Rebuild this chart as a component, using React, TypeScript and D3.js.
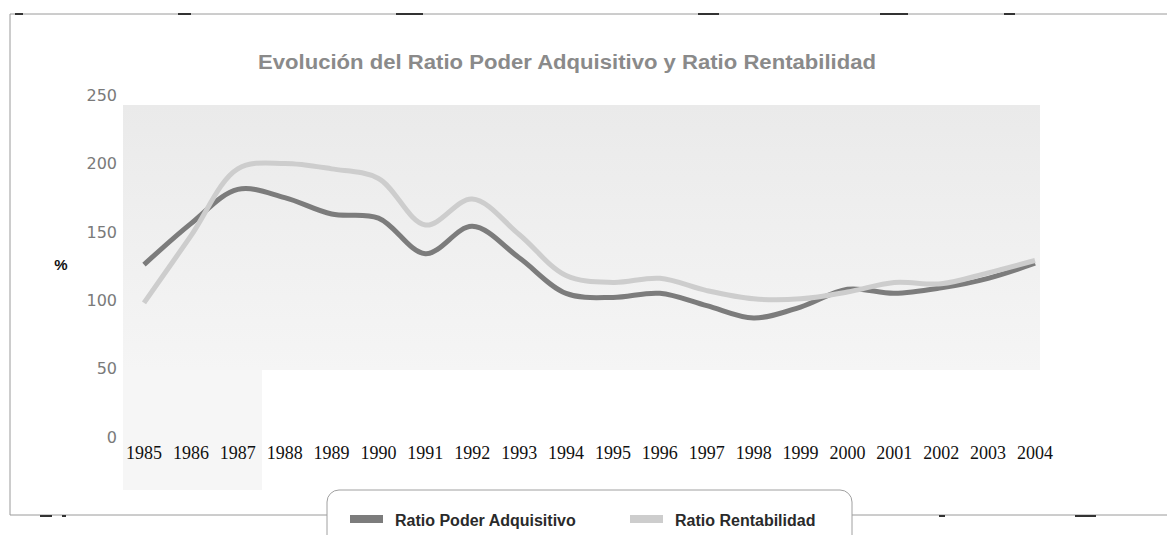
import { useRef, useEffect } from "react";
import * as d3 from "d3";

const years = [
  "1985", "1986", "1987", "1988", "1989", "1990", "1991", "1992", "1993", "1994",
  "1995", "1996", "1997", "1998", "1999", "2000", "2001", "2002", "2003", "2004",
];
const poderAdquisitivo = [126, 156, 181, 175, 163, 160, 134, 154, 131, 105, 102, 105, 96, 87, 95, 108, 105, 109, 116, 127];
const rentabilidad = [98, 147, 196, 200, 196, 189, 155, 174, 148, 118, 113, 116, 107, 101, 101, 106, 113, 112, 120, 129];
const yTicks = [0, 50, 100, 150, 200, 250];
const seriesNames = ["Ratio Poder Adquisitivo", "Ratio Rentabilidad"];
const seriesColors = ["#7c7c7c", "#cdcdcd"];

export default function App() {
  const ref = useRef<SVGSVGElement>(null);

  useEffect(() => {
    const w = 1167;
    const h = 535;
    const svg = d3.select(ref.current);
    svg.selectAll("*").remove();

    const x = d3.scalePoint().domain(years).range([144, 1035]);
    const y = d3.scaleLinear().domain([0, 250]).range([437, 95]);

    svg.append("rect").attr("width", w).attr("height", h).attr("fill", "#ffffff");

    // scanned grey plot area
    const defs = svg.append("defs");
    const grad = defs
      .append("linearGradient")
      .attr("id", "bg")
      .attr("x1", 0)
      .attr("y1", 0)
      .attr("x2", 0)
      .attr("y2", 1);
    grad.append("stop").attr("offset", "0%").attr("stop-color", "#eaeaea");
    grad.append("stop").attr("offset", "100%").attr("stop-color", "#f5f5f5");
    svg.append("rect").attr("x", 123).attr("y", 105).attr("width", 917).attr("height", 265).attr("fill", "url(#bg)");
    svg.append("rect").attr("x", 123).attr("y", 370).attr("width", 139).attr("height", 120).attr("fill", "#f6f6f6");

    // frame
    const frame = svg.append("g").attr("stroke", "#9a9a9a").attr("stroke-width", 1).attr("fill", "none");
    frame.append("line").attr("x1", 10).attr("x2", w).attr("y1", 14).attr("y2", 14);
    frame.append("line").attr("x1", 10).attr("x2", 10).attr("y1", 14).attr("y2", 515);
    frame.append("line").attr("x1", 10).attr("x2", 327).attr("y1", 515).attr("y2", 515);
    frame.append("line").attr("x1", 852).attr("x2", w).attr("y1", 515).attr("y2", 515);
    const marks = [[15, 23, 14], [178, 191, 14], [396, 423, 14], [698, 719, 14], [880, 908, 14], [1004, 1015, 14],
      [40, 52, 516], [62, 66, 516], [939, 945, 516], [1075, 1096, 516], [535, 550, 491], [828, 835, 491]];
    svg.selectAll(".mark").data(marks).enter().append("line")
      .attr("x1", (d) => d[0]).attr("x2", (d) => d[1]).attr("y1", (d) => d[2]).attr("y2", (d) => d[2])
      .attr("stroke", "#333").attr("stroke-width", 2);

    // title
    svg.append("text")
      .attr("x", 567).attr("y", 69)
      .attr("text-anchor", "middle")
      .attr("font-family", "Liberation Sans, Arial, sans-serif")
      .attr("font-size", 20).attr("font-weight", "bold")
      .attr("fill", "#8a8a8a")
      .attr("textLength", 618).attr("lengthAdjust", "spacingAndGlyphs")
      .text("Evolución del Ratio Poder Adquisitivo y Ratio Rentabilidad");

    // y axis labels
    svg.selectAll(".ytick").data(yTicks).enter().append("text")
      .attr("x", 117).attr("y", (d) => y(d)).attr("dy", "0.36em")
      .attr("text-anchor", "end")
      .attr("font-family", "DejaVu Sans, sans-serif").attr("font-size", 16)
      .attr("fill", "#7a7a7a")
      .text((d) => d);

    svg.append("text")
      .attr("x", 61).attr("y", 270).attr("text-anchor", "middle")
      .attr("font-family", "Liberation Sans, Arial, sans-serif").attr("font-size", 15).attr("font-weight", "bold")
      .attr("fill", "#111").text("%");

    // x axis labels
    svg.selectAll(".xtick").data(years).enter().append("text")
      .attr("x", (d) => x(d)!).attr("y", 459)
      .attr("text-anchor", "middle")
      .attr("font-family", "Liberation Serif, Times New Roman, serif").attr("font-size", 18)
      .attr("fill", "#111")
      .text((d) => d);

    // lines
    const line = d3.line<number>()
      .x((d, i) => x(years[i])!)
      .y((d) => y(d))
      .curve(d3.curveCatmullRom.alpha(0.5));
    [poderAdquisitivo, rentabilidad].forEach((s, i) => {
      svg.append("path").attr("d", line(s)).attr("fill", "none")
        .attr("stroke", seriesColors[i]).attr("stroke-width", 5)
        .attr("stroke-linecap", "butt").attr("stroke-linejoin", "round");
    });

    // legend
    svg.append("rect").attr("x", 327).attr("y", 490).attr("width", 525).attr("height", 70).attr("rx", 12)
      .attr("fill", "#fff").attr("stroke", "#a0a0a0");
    const legendX = [350, 630];
    seriesNames.forEach((name, i) => {
      svg.append("rect").attr("x", legendX[i]).attr("y", 515).attr("width", 33).attr("height", 8)
        .attr("fill", seriesColors[i]);
      svg.append("text").attr("x", legendX[i] + 45).attr("y", 526)
        .attr("font-family", "Liberation Sans, Arial, sans-serif").attr("font-size", 16).attr("font-weight", "bold")
        .attr("fill", "#2a2a2a")
        .text(name);
    });
  }, []);

  return <svg ref={ref} width={1167} height={535} style={{ position: "absolute", left: 0, top: 0 }} />;
}
